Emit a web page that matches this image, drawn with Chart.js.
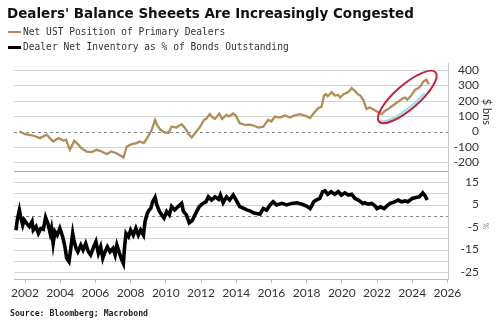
<!DOCTYPE html>
<html>
<head>
<meta charset="utf-8">
<script src="https://cdn.jsdelivr.net/npm/chart.js@4.4.0/dist/chart.umd.min.js"></script>
<style>
  body { margin: 0; background: #fff; }
  #wrap { position: relative; width: 500px; height: 325px; overflow: hidden; }
  #chart { position: absolute; left: 0; top: 0; }
  .title { position: absolute; left: 7px; top: 5px; font: bold 13.5px "DejaVu Sans"; color: #111; white-space: nowrap; line-height: 16px; }
  .leg { position: absolute; left: 23px; font: 9.6px "DejaVu Sans Mono"; color: #333; white-space: nowrap; line-height: 12px; }
  .mark { position: absolute; left: 8px; width: 13px; }
  .source { position: absolute; left: 10px; top: 308px; font: bold 8.2px "DejaVu Sans Mono"; color: #222; white-space: nowrap; line-height: 10px; }
</style>
</head>
<body>
<div id="wrap">
  <canvas id="chart" width="500" height="325"></canvas>
  <div class="title">Dealers' Balance Sheeets Are Increasingly Congested</div>
  <div class="mark" style="top:31px;height:2px;background:#b08d57"></div>
  <div class="leg" style="top:26px">Net UST Position of Primary Dealers</div>
  <div class="mark" style="top:46px;height:3px;background:#000"></div>
  <div class="leg" style="top:41px">Dealer Net Inventory as % of Bonds Outstanding</div>
  <div class="source">Source: Bloomberg; Macrobond</div>
</div>
<script>
// axis ticks
const xTicks = [2002, 2004, 2006, 2008, 2010, 2012, 2014, 2016, 2018, 2020, 2022, 2024, 2026];
const ustTicks = [-200, -100, 0, 100, 200, 300, 400];
const invTicks = [-25, -20, -15, -10, -5, 0, 5, 10, 15];
const invLabels = [15, 5, -5, -15, -25];

// Net UST position of primary dealers, $ bns
const ustYears = [2001.68, 2002.0, 2002.47, 2002.85, 2003.23, 2003.6, 2003.9, 2004.2, 2004.33, 2004.55,
  2004.8, 2005.0, 2005.2, 2005.5, 2005.8, 2006.07, 2006.35, 2006.64, 2006.9, 2007.2,
  2007.6, 2007.78, 2008.06, 2008.35, 2008.5, 2008.75, 2009.0, 2009.2, 2009.39, 2009.5,
  2009.7, 2009.9, 2010.14, 2010.33, 2010.6, 2010.9, 2011.1, 2011.3, 2011.47, 2011.66,
  2011.95, 2012.17, 2012.3, 2012.5, 2012.7, 2012.8, 2013.04, 2013.2, 2013.45, 2013.6,
  2013.83, 2013.97, 2014.2, 2014.5, 2014.78, 2014.97, 2015.25, 2015.54, 2015.82, 2016.0,
  2016.2, 2016.5, 2016.77, 2017.05, 2017.3, 2017.6, 2017.9, 2018.2, 2018.4, 2018.66,
  2018.85, 2018.99, 2019.1, 2019.2, 2019.43, 2019.6, 2019.8, 2019.9, 2020.1, 2020.37,
  2020.56, 2020.75, 2020.9, 2021.05, 2021.22, 2021.4, 2021.6, 2021.83, 2022.07, 2022.27,
  2022.45, 2022.7, 2022.9, 2023.08, 2023.27, 2023.46, 2023.6, 2023.72, 2023.97, 2024.16,
  2024.35, 2024.5, 2024.63, 2024.8, 2024.95];
const ustValues = [0, -17, -26, -43, -21, -65, -43, -60, -52, -119,
  -60, -82, -108, -130, -134, -119, -130, -147, -130, -141,
  -169, -97, -82, -75, -65, -75, -32, 11, 76, 43,
  11, -4, -11, 32, 26, 48, 22, -17, -39, -11,
  32, 76, 82, 113, 87, 82, 117, 82, 108, 98,
  117, 104, 54, 43, 45, 39, 26, 32, 76, 65,
  97, 91, 104, 91, 104, 113, 104, 87, 119, 152,
  162, 234, 243, 229, 256, 234, 238, 221, 243, 256,
  282, 264, 243, 234, 206, 147, 156, 141, 126, 113,
  134, 152, 169, 184, 199, 216, 221, 206, 238, 271,
  282, 299, 325, 336, 308];

// Dealer net inventory as % of bonds outstanding
const invYears = [2001.49, 2001.56, 2001.68, 2001.75, 2001.87, 2001.95, 2002.1, 2002.25, 2002.4, 2002.47,
  2002.63, 2002.76, 2002.9, 2003.04, 2003.17, 2003.3, 2003.43, 2003.5, 2003.6, 2003.7,
  2003.83, 2003.98, 2004.14, 2004.27, 2004.37, 2004.5, 2004.6, 2004.71, 2004.78, 2004.9,
  2005.0, 2005.17, 2005.3, 2005.45, 2005.6, 2005.73, 2005.9, 2006.03, 2006.17, 2006.3,
  2006.42, 2006.55, 2006.68, 2006.83, 2007.0, 2007.12, 2007.22, 2007.37, 2007.5, 2007.59,
  2007.65, 2007.74, 2007.88, 2008.0, 2008.15, 2008.3, 2008.44, 2008.57, 2008.73, 2008.82,
  2008.92, 2009.0, 2009.15, 2009.25, 2009.39, 2009.49, 2009.64, 2009.77, 2009.9, 2010.05,
  2010.2, 2010.33, 2010.5, 2010.7, 2010.9, 2011.0, 2011.17, 2011.33, 2011.5, 2011.7,
  2011.9, 2012.1, 2012.28, 2012.42, 2012.6, 2012.8, 2013.0, 2013.1, 2013.26, 2013.45,
  2013.63, 2013.83, 2014.0, 2014.2, 2014.4, 2014.6, 2014.78, 2014.97, 2015.16, 2015.35,
  2015.54, 2015.73, 2015.92, 2016.1, 2016.3, 2016.6, 2016.87, 2017.15, 2017.44, 2017.7,
  2018.0, 2018.2, 2018.4, 2018.55, 2018.75, 2018.91, 2019.05, 2019.2, 2019.4, 2019.6,
  2019.8, 2019.98, 2020.17, 2020.37, 2020.56, 2020.75, 2020.94, 2021.2, 2021.3, 2021.5,
  2021.7, 2021.9, 2022.0, 2022.2, 2022.4, 2022.55, 2022.75, 2023.0, 2023.2, 2023.4,
  2023.6, 2023.75, 2024.0, 2024.2, 2024.4, 2024.5, 2024.6, 2024.75, 2024.85];
const invValues = [-6.4, -1.9, 2.5, -0.4, -4.1, -1.8, -3.4, -4.8, -2.6, -6.4,
  -4.8, -7.8, -5.6, -6.0, -0.7, -3.4, -7.8, -5.6, -12.3, -7.0,
  -8.6, -5.6, -9.3, -13.8, -18.9, -20.4, -14.5, -7.8, -10.8, -14.5,
  -16.0, -13.0, -15.2, -12.3, -16.0, -17.4, -13.8, -11.5, -16.7, -13.8,
  -18.9, -16.0, -13.8, -16.0, -14.5, -17.4, -13.0, -16.7, -19.6, -21.2,
  -14.5, -7.8, -9.3, -6.4, -8.6, -5.6, -8.6, -6.4, -8.6, -2.6,
  0.4, 1.9, 3.4, 6.2, 8.2, 4.8, 1.9, 0.4, -1.0, 1.9,
  0.4, 4.1, 2.6, 4.1, 5.5, 1.9, 0.4, -3.1, -2.1, 1.1,
  4.1, 5.5, 6.2, 8.4, 7.0, 8.4, 7.3, 9.2, 5.8, 8.4,
  7.0, 9.2, 7.0, 4.1, 3.4, 2.6, 2.2, 1.3, 1.0, 0.7,
  3.2, 2.5, 4.8, 6.2, 4.8, 5.5, 4.8, 5.5, 5.8, 5.2,
  4.3, 3.2, 6.2, 7.0, 7.7, 10.7, 11.1, 9.6, 10.7, 9.6,
  10.7, 9.2, 10.2, 9.2, 9.6, 7.7, 7.0, 5.5, 5.8, 5.2,
  5.5, 4.3, 3.2, 4.0, 3.2, 4.3, 5.5, 6.2, 7.0, 6.2,
  6.6, 6.2, 7.7, 8.1, 8.4, 9.2, 10.2, 8.7, 7.0];

const GOLD = '#b08d57';
const GRID = '#d4d4d4';
const tickFont = { family: 'Lato', size: 12 };

// horizontal gridlines, dashed zero lines, panel divider
const panelGrid = {
  id: 'panelGrid',
  beforeDatasetsDraw(chart) {
    const { ctx, chartArea, scales } = chart;
    const hline = y => {
      const py = Math.round(y) + 0.5;
      ctx.beginPath();
      ctx.moveTo(chartArea.left, py);
      ctx.lineTo(chartArea.right, py);
      ctx.stroke();
    };
    ctx.save();
    ctx.lineWidth = 1;
    ctx.strokeStyle = GRID;
    ustTicks.filter(v => v !== 0).forEach(v => hline(scales.yUst.getPixelForValue(v)));
    invTicks.filter(v => v !== 0).forEach(v => hline(scales.yInv.getPixelForValue(v)));
    ctx.strokeStyle = '#888';
    ctx.setLineDash([3, 3]);
    hline(scales.yUst.getPixelForValue(0));
    hline(scales.yInv.getPixelForValue(0));
    ctx.setLineDash([]);
    ctx.strokeStyle = '#aaa';
    hline(scales.yUst.bottom);
    ctx.restore();
  }
};

// axis titles and the ring round the latest run-up
const panelNotes = {
  id: 'panelNotes',
  afterDraw(chart) {
    const { ctx, scales } = chart;
    ctx.save();
    ctx.fillStyle = '#333';
    ctx.font = '11px Lato';
    ctx.textAlign = 'center';
    ctx.textBaseline = 'middle';
    ctx.translate(487, (scales.yUst.top + scales.yUst.bottom) / 2 - 5);
    ctx.rotate(Math.PI / 2);
    ctx.fillText('$ bns', 0, 0);
    ctx.restore();
    ctx.save();
    ctx.fillStyle = '#777';
    ctx.font = '8px Lato';
    ctx.textAlign = 'center';
    ctx.textBaseline = 'middle';
    ctx.translate(486, (scales.yInv.top + scales.yInv.bottom) / 2 + 1);
    ctx.rotate(Math.PI / 2);
    ctx.fillText('%', 0, 0);
    ctx.restore();

    const cx = scales.x.getPixelForValue(2023.72);
    const cy = scales.yUst.getPixelForValue(225);
    const rot = -41 * Math.PI / 180;
    ctx.save();
    ctx.strokeStyle = '#8fe3e6';
    ctx.lineWidth = 2;
    ctx.beginPath();
    ctx.ellipse(cx, cy, 35, 9.5, rot, 0.35 * Math.PI, 1.0 * Math.PI);
    ctx.stroke();
    ctx.strokeStyle = '#c8203a';
    ctx.lineWidth = 2;
    ctx.beginPath();
    ctx.ellipse(cx, cy, 37.5, 12, rot, 0, 2 * Math.PI);
    ctx.stroke();
    ctx.restore();
  }
};

const ctx = document.getElementById('chart').getContext('2d');
new Chart(ctx, {
  type: 'line',
  data: {
    datasets: [{
      label: 'Net UST Position of Primary Dealers',
      data: ustYears.map((x, i) => ({ x: x, y: ustValues[i] })),
      yAxisID: 'yUst',
      borderColor: GOLD,
      borderWidth: 2.3,
      pointRadius: 0,
      tension: 0
    }, {
      label: 'Dealer Net Inventory as % of Bonds Outstanding',
      data: invYears.map((x, i) => ({ x: x, y: invValues[i] })),
      yAxisID: 'yInv',
      borderColor: '#000',
      borderWidth: 3.6,
      pointRadius: 0,
      tension: 0
    }]
  },
  options: {
    responsive: false,
    animation: false,
    layout: { padding: { left: 14, top: 63, right: 21, bottom: 20 } },
    plugins: { legend: { display: false }, tooltip: { enabled: false } },
    scales: {
      x: {
        type: 'linear',
        min: 2001.375,
        max: 2026.034,
        afterBuildTicks: s => { s.ticks = xTicks.map(v => ({ value: v })); },
        afterFit: s => { s.height = 26; },
        grid: { drawOnChartArea: false, tickLength: 4, color: '#bbb' },
        border: { color: '#bbb' },
        ticks: { callback: v => String(v), font: tickFont, color: '#333', padding: 3, maxRotation: 0, autoSkip: false }
      },
      yUst: {
        position: 'right',
        stack: 'panels',
        stackWeight: 1,
        min: -256.6,
        max: 445.5,
        afterBuildTicks: s => { s.ticks = ustTicks.map(v => ({ value: v })); },
        afterFit: s => { s.width = 31; },
        grid: { drawOnChartArea: false, drawTicks: false },
        border: { color: '#c8c8c8' },
        ticks: { crossAlign: 'far', autoSkip: false, font: tickFont, color: '#333', callback: v => String(v) }
      },
      yInv: {
        position: 'right',
        stack: 'panels',
        stackWeight: 1,
        min: -28.1,
        max: 19.9,
        afterBuildTicks: s => { s.ticks = invTicks.map(v => ({ value: v })); },
        afterFit: s => { s.width = 24; },
        grid: { drawOnChartArea: false, drawTicks: false },
        border: { color: '#c8c8c8' },
        ticks: { crossAlign: 'far', autoSkip: false, font: tickFont, color: '#333', callback: v => (invLabels.includes(v) ? String(v) : '') }
      }
    }
  },
  plugins: [panelGrid, panelNotes]
});
</script>
</body>
</html>
